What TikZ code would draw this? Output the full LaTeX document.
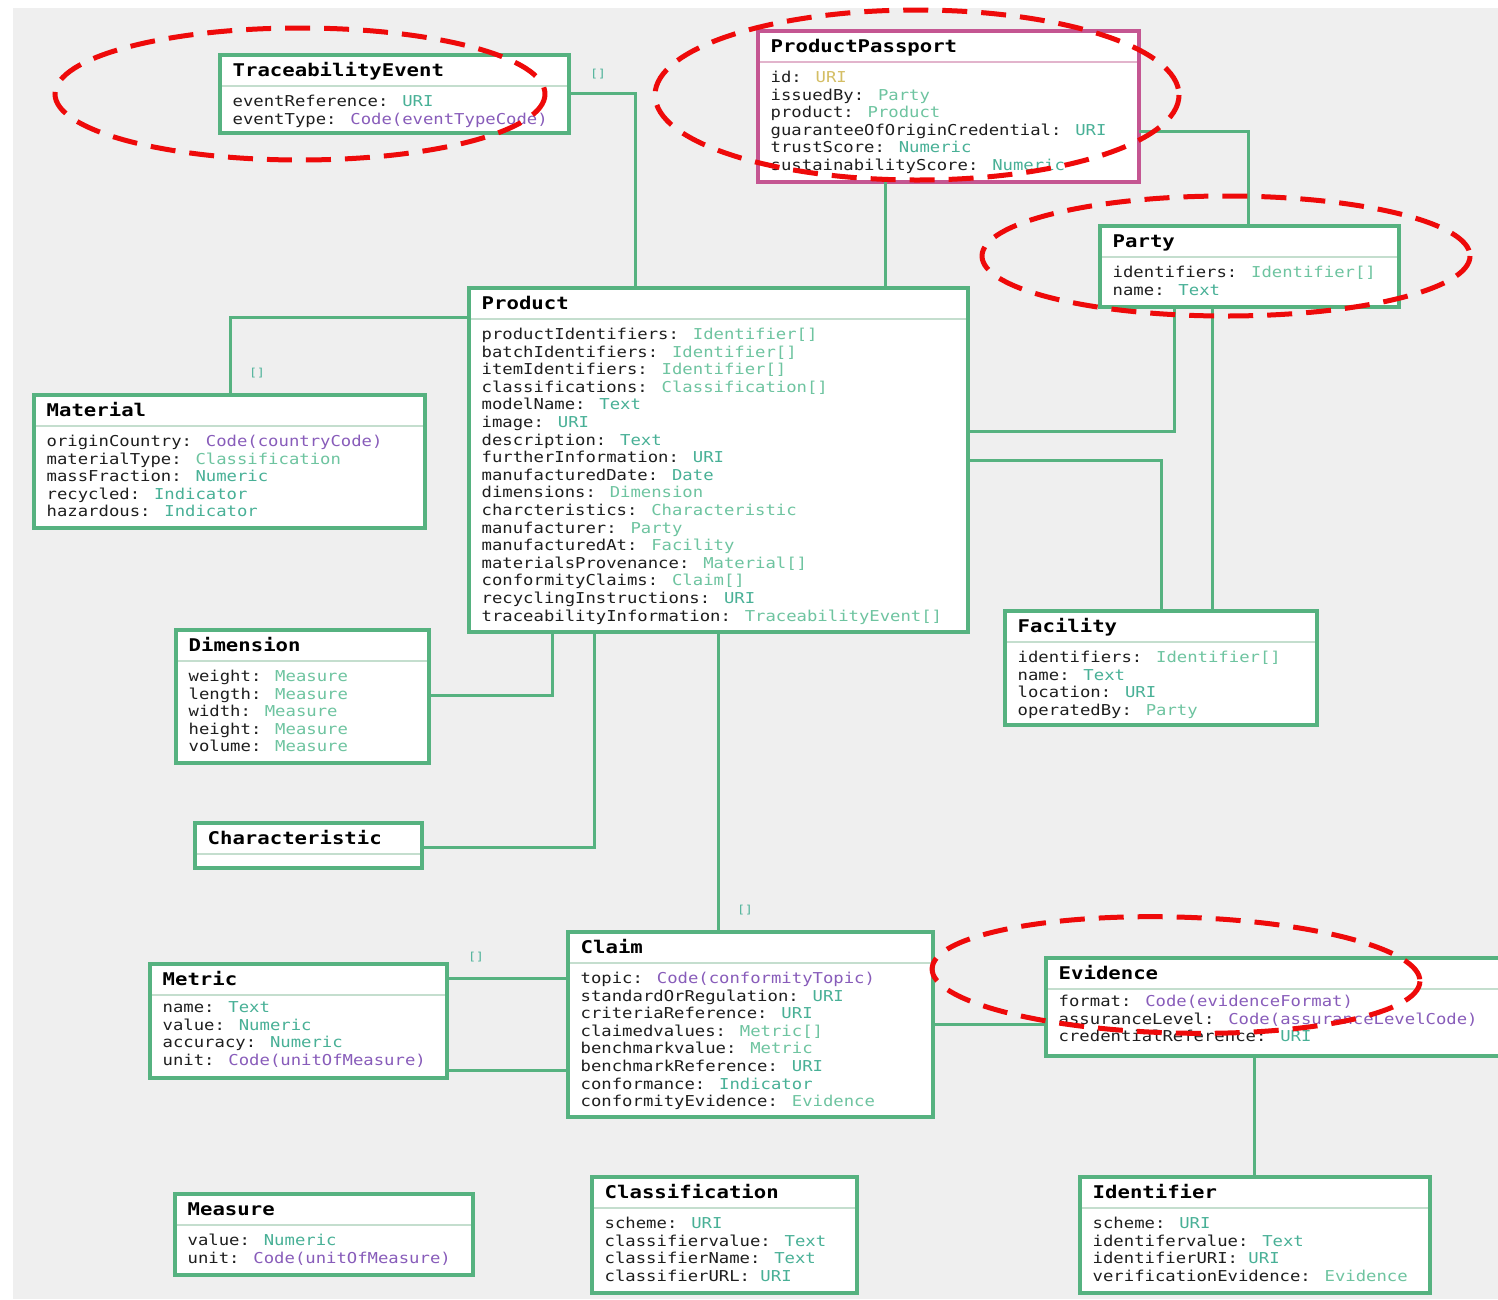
\documentclass[tikz,border=0pt]{standalone}
\usepackage{fontspec}
\newfontfamily\umlmono[FakeStretch=1.15]{DejaVu Sans Mono}
\newfontfamily\umltitle[FakeStretch=1.18]{DejaVu Sans Mono}
\definecolor{bggray}{RGB}{239,239,239}
\definecolor{boxgreen}{RGB}{86,178,128}
\definecolor{ppink}{RGB}{196,86,146}
\definecolor{sepgreen}{RGB}{196,222,206}
\definecolor{seppink}{RGB}{226,180,204}
\definecolor{tteal}{RGB}{72,176,150}
\definecolor{tlight}{RGB}{110,196,160}
\definecolor{tpurple}{RGB}{136,92,186}
\definecolor{tyellow}{RGB}{212,190,100}
\definecolor{attrgray}{RGB}{30,30,30}
\definecolor{ringred}{RGB}{238,10,10}
\tikzset{
  classbox/.style={rectangle, draw=boxgreen, line width=3.5pt, fill=white, inner sep=0pt, outer sep=0pt},
  ppbox/.style={classbox, draw=ppink},
  classbox-sep/.style={draw=sepgreen, line width=1.6pt},
  ppbox-sep/.style={draw=seppink, line width=1.6pt},
  titletext/.style={font=\umltitle\bfseries\fontsize{17.5}{20}\selectfont, text=black, inner sep=0pt},
  attrtext/.style={font=\umlmono\fontsize{15}{17}\selectfont, text=attrgray, inner sep=0pt},
  conn/.style={draw=boxgreen, line width=3pt},
  multlabel/.style={font=\umlmono\fontsize{11}{13}\selectfont, text=tteal, inner sep=0pt},
  redring/.style={draw=ringred, line width=5pt, dash pattern=on 25pt off 14pt}
}
\newcommand{\umlbox}[7]{%
  \node[#6, minimum width={#4-#2}, minimum height={#5-#3}] (#1) at ({(#2+#4)/2},{(#3+#5)/2}) {};
  \draw[#6-sep] ({#2+1.75},{#3+31}) -- ({#4-1.75},{#3+31});
  \node[titletext, anchor=base west] (#1-title) at ({#2+12.5},{#3+21}) {#7};
}
\newcommand{\umlattrs}[4]{%
  \foreach \attrN/\attrT/\attrC [count=\i from 0] in {#4} {
    \node[attrtext, anchor=base west] (#1-a\i) at ({#2+12.5},{#3+51.5+17.6*\i}) {\attrN: \textcolor{\attrC}{\attrT}};
  }
}
\begin{document}
\begin{tikzpicture}[x=1pt, y=-1pt]
\useasboundingbox (0,0) rectangle (1498,1299);
\fill[white] (0,0) rectangle (1498,1299);
\fill[bggray] (13,8) rectangle (1498,1299);

% boxes
\umlbox{te}{220}{55}{569}{133}{classbox}{TraceabilityEvent}
\umlattrs{te}{220}{55}{eventReference/URI/tteal,eventType/Code(eventTypeCode)/tpurple}

\umlbox{pp}{758}{31}{1139}{182}{ppbox}{ProductPassport}
\umlattrs{pp}{758}{31}{id/URI/tyellow,issuedBy/Party/tlight,product/Product/tlight,guaranteeOfOriginCredential/URI/tteal,trustScore/Numeric/tteal,sustainabilityScore/Numeric/tteal}

\umlbox{party}{1100}{226}{1399}{307}{classbox}{Party}
\umlattrs{party}{1100}{226}{identifiers/Identifier[]/tlight,name/Text/tteal}

\umlbox{product}{469}{288}{968}{632}{classbox}{Product}
\umlattrs{product}{469}{288}{productIdentifiers/Identifier[]/tlight,batchIdentifiers/Identifier[]/tlight,itemIdentifiers/Identifier[]/tlight,classifications/Classification[]/tlight,modelName/Text/tteal,image/URI/tteal,description/Text/tteal,furtherInformation/URI/tteal,manufacturedDate/Date/tteal,dimensions/Dimension/tlight,charcteristics/Characteristic/tlight,manufacturer/Party/tlight,manufacturedAt/Facility/tlight,materialsProvenance/Material[]/tlight,conformityClaims/Claim[]/tlight,recyclingInstructions/URI/tteal,traceabilityInformation/TraceabilityEvent[]/tlight}

\umlbox{material}{34}{395}{425}{528}{classbox}{Material}
\umlattrs{material}{34}{395}{originCountry/Code(countryCode)/tpurple,materialType/Classification/tlight,massFraction/Numeric/tteal,recycled/Indicator/tteal,hazardous/Indicator/tteal}

\umlbox{dimension}{176}{630}{429}{763}{classbox}{Dimension}
\umlattrs{dimension}{176}{630}{weight/Measure/tlight,length/Measure/tlight,width/Measure/tlight,height/Measure/tlight,volume/Measure/tlight}

\umlbox{characteristic}{195}{823}{422}{868}{classbox}{Characteristic}

\umlbox{facility}{1005}{611}{1317}{725}{classbox}{Facility}
\umlattrs{facility}{1005}{611}{identifiers/Identifier[]/tlight,name/Text/tteal,location/URI/tteal,operatedBy/Party/tlight}

\umlbox{claim}{568}{932}{933}{1117}{classbox}{Claim}
\umlattrs{claim}{568}{932}{topic/Code(conformityTopic)/tpurple,standardOrRegulation/URI/tteal,criteriaReference/URI/tteal,claimedvalues/Metric[]/tlight,benchmarkvalue/Metric/tlight,benchmarkReference/URI/tteal,conformance/Indicator/tteal,conformityEvidence/Evidence/tlight}

\umlbox{metric}{150}{964}{447}{1078}{classbox}{Metric}
\umlattrs{metric}{150}{961}{name/Text/tteal,value/Numeric/tteal,accuracy/Numeric/tteal,unit/Code(unitOfMeasure)/tpurple}

\umlbox{evidence}{1046}{958}{1512}{1056}{classbox}{Evidence}
\umlattrs{evidence}{1046}{955}{format/Code(evidenceFormat)/tpurple,assuranceLevel/Code(assuranceLevelCode)/tpurple,credentialReference/URI/tteal}

\umlbox{measure}{175}{1194}{473}{1275}{classbox}{Measure}
\umlattrs{measure}{175}{1194}{value/Numeric/tteal,unit/Code(unitOfMeasure)/tpurple}

\umlbox{classification}{592}{1177}{857}{1293}{classbox}{Classification}
\umlattrs{classification}{592}{1177}{scheme/URI/tteal,classifiervalue/Text/tteal,classifierName/Text/tteal,classifierURL/URI/tteal}

\umlbox{identifier}{1080}{1177}{1430}{1293}{classbox}{Identifier}
\umlattrs{identifier}{1080}{1177}{scheme/URI/tteal,identifervalue/Text/tteal,identifierURI/URI/tteal,verificationEvidence/Evidence/tlight}

% connectors
\draw[conn] (te.east |- 0,93) -| (product.north -| 635,0);
\draw[conn] (pp.south -| 885,0) -- (product.north -| 885,0);
\draw[conn] (pp.east |- 0,131) -| (party.north -| 1248,0);
\draw[conn] (product.west |- 0,317) -| (material.north -| 230,0);
\draw[conn] (product.east |- 0,431) -| (party.south -| 1174,0);
\draw[conn] (product.east |- 0,460) -| (facility.north -| 1161,0);
\draw[conn] (party.south -| 1212,0) -- (facility.north -| 1212,0);
\draw[conn] (product.south -| 552,0) |- (dimension.east |- 0,695);
\draw[conn] (product.south -| 594,0) |- (characteristic.east |- 0,847);
\draw[conn] (product.south -| 718,0) -- (claim.north -| 718,0);
\draw[conn] (metric.east |- 0,978) -- (claim.west |- 0,978);
\draw[conn] (metric.east |- 0,1070) -- (claim.west |- 0,1070);
\draw[conn] (claim.east |- 0,1024) -- (evidence.west |- 0,1024);
\draw[conn] (evidence.south -| 1254,0) -- (identifier.north -| 1254,0);

% multiplicity labels
\node[multlabel] (m1) at (598,74) {[]};
\node[multlabel] (m2) at (257,373) {[]};
\node[multlabel] (m3) at (745,910) {[]};
\node[multlabel] (m4) at (476,957) {[]};

% red highlight rings
\draw[redring] (300,94) ellipse [x radius=245, y radius=66];
\draw[redring] (917,95) ellipse [x radius=262, y radius=85];
\draw[redring] (1226,256) ellipse [x radius=244, y radius=60];
\draw[redring, rotate around={-1.5:(1176,975)}] (1176,975) ellipse [x radius=244, y radius=58];
\end{tikzpicture}
\end{document}
